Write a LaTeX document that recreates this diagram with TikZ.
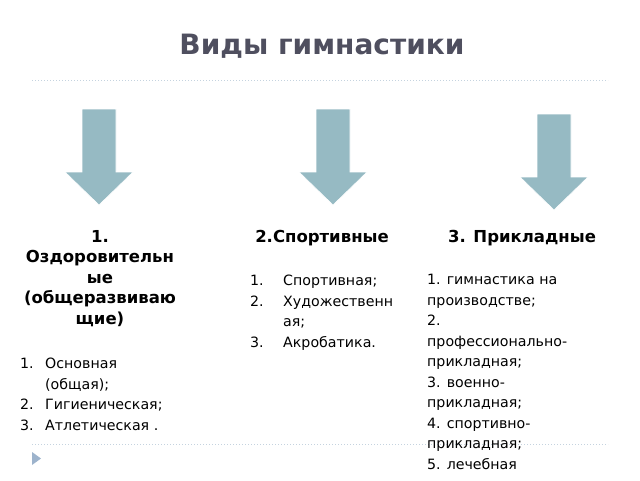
\documentclass[tikz,border=0pt]{standalone}
\usepackage{fontspec}
\setmainfont{DejaVu Sans}
\usetikzlibrary{positioning}
\definecolor{arrowblue}{HTML}{96BAC3}
\definecolor{titlegray}{HTML}{4F4F5F}
\definecolor{dotblue}{HTML}{C5D3DF}
\definecolor{tipblue}{HTML}{9DB3CC}
\tikzset{
  bigarrow/.style={fill=arrowblue, draw=white, line width=0.6pt},
  dotline/.style={dotblue, dotted, line width=1pt},
  coltext/.style={font=\fontsize{14.2}{20.5}\selectfont, inner sep=0pt, align=left, anchor=north west},
  colhead/.style={font=\bfseries\fontsize{16.5}{20.5}\selectfont, inner sep=0pt, align=center, anchor=north}
}
\newcommand{\bigdown}[3]{% x, top y, tip y
  \draw[bigarrow] (#1-17,#2) -- (#1+17,#2) -- (#1+17,#3-33) -- (#1+34,#3-33)
    -- (#1,#3) -- (#1-34,#3-33) -- (#1-17,#3-33) -- cycle;}
\begin{document}
\begin{tikzpicture}[x=1pt,y=-1pt]
  \useasboundingbox (0,0) rectangle (640,480);
  % title and rules
  \node[font=\bfseries\fontsize{28}{32}\selectfont, text=titlegray] (title) at (322,46) {Виды гимнастики};
  \draw[dotline] (32,80) -- (608,80);
  \draw[dotline] (32,444) -- (608,444);
  \fill[tipblue] (32,452) -- (41,458.5) -- (32,465) -- cycle;
  % arrows
  \bigdown{99}{109}{205}
  \bigdown{333}{109}{205}
  \bigdown{554}{114}{210}
  % first column
  \node[colhead] (head1) at (100,230) {1.\\Оздоровительн\\ые\\(общеразвиваю\\щие)};
  \node[coltext] (nums1) at (20,358) {1.\\\\2.\\3.};
  \node[coltext] (list1) at (45,358) {Основная\\(общая);\\Гигиеническая;\\Атлетическая .};
  % second column
  \node[colhead] (head2) at (322,230) {2.Спортивные};
  \node[coltext] (nums2) at (250,275) {1.\\2.\\\\3.};
  \node[coltext] (list2) at (283,275) {Спортивная;\\Художественн\\ая;\\Акробатика.};
  % third column
  \node[colhead] (head3) at (522,230) {3. Прикладные};
  \node[coltext] (list3) at (427,274) {1. гимнастика на\\производстве;\\2.\\профессионально-\\прикладная;\\3. военно-\\прикладная;\\4. спортивно-\\прикладная;\\5. лечебная};
\end{tikzpicture}
\end{document}
